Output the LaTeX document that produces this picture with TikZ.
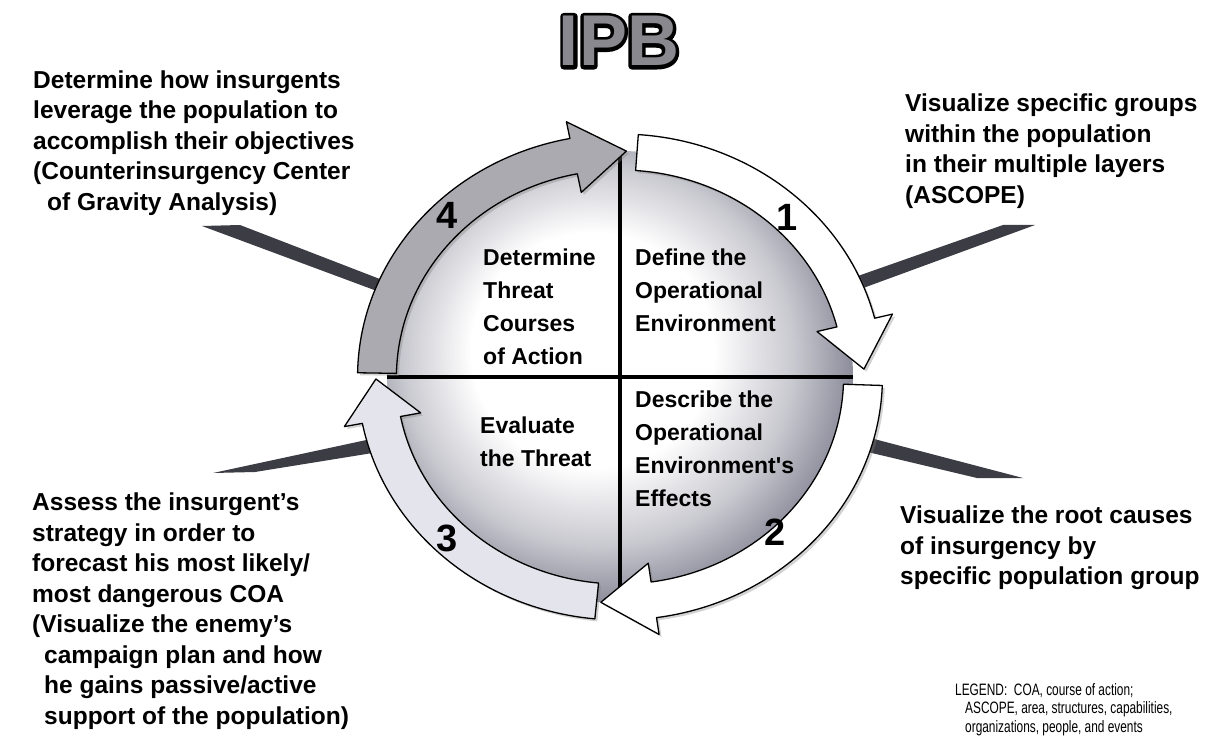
\documentclass[tikz,border=0pt]{standalone}
\usepackage{fontspec}
\setmainfont{Liberation Sans}
\newfontfamily\legendfont[FakeStretch=0.72]{Liberation Sans}
\usetikzlibrary{calc,shadows,shapes.geometric}

\definecolor{spokegray}{RGB}{60,60,68}
\definecolor{spheregray}{RGB}{118,118,136}
\definecolor{stepfour}{RGB}{170,170,176}
\definecolor{stepthree}{RGB}{228,228,236}
\definecolor{titlegray}{RGB}{136,136,142}

\pgfdeclareradialshading{ipbsphere}{\pgfpoint{-4bp}{4bp}}{color(0bp)=(white); color(13bp)=(white); color(21bp)=(spheregray!40); color(29bp)=(spheregray); color(50bp)=(spheregray)}

\begin{document}
\begin{tikzpicture}[x=1pt, y=-1pt,
		sidetext/.style={anchor=north west, align=left, inner sep=0pt,
				font=\fontsize{24.5}{30.5}\selectfont\bfseries},
		steptext/.style={anchor=north west, align=left, inner sep=0pt,
				font=\fontsize{23}{33}\selectfont\bfseries},
		stepnum/.style={inner sep=0pt, font=\fontsize{38}{38}\selectfont\bfseries},
		titletext/.style={anchor=base, inner sep=0pt, font=\fontsize{72}{72}\selectfont\bfseries},
		legendtext/.style={anchor=north west, align=left, inner sep=0pt,
				font=\legendfont\fontsize{16.5}{18.5}\selectfont},
		spoke/.style={fill=spokegray},
		ringarrow/.style={draw=black, line width=1.3pt, line join=round,
				drop shadow={shadow xshift=2.5pt, shadow yshift=-2.5pt, opacity=0.35}},
		crossline/.style={line width=4.5pt}
	]
	\useasboundingbox (0,0) rectangle (1221,738);

	% title: stroked copy under the grey letters
	\coordinate (titlebase) at (619,66);
	\node[titletext, text=black] (titleline) at (titlebase)
		{\special{pdf:literal direct 2 Tr 7 w 1 j 0 0 0 RG}IPB\special{pdf:literal direct 0 Tr}};
	\node[titletext, text=titlegray] (title) at (titlebase) {IPB};

	% spokes towards the text blocks
	\fill[spoke] (202,226) -- (240,225) -- (385,281) -- (385,294) -- cycle;
	\fill[spoke] (1035,225) -- (1003,225) -- (855,277) -- (855,291) -- cycle;
	\fill[spoke] (1023,478) -- (977,478) -- (855,449) -- (855,434) -- cycle;
	\fill[spoke] (213,473) -- (255,472) -- (385,451) -- (385,436) -- cycle;

	% sphere with the four quadrants
	\node[ellipse, minimum width=466pt, minimum height=452pt, inner sep=0pt,
		shade, shading=ipbsphere] (sphere) at (620,377) {};
	\draw[crossline] (sphere.north) -- (sphere.south);
	\draw[crossline] (sphere.west) -- (sphere.east);

	% cycle arrows: tail / head base / tip / fill
	\begin{scope}[shift={(620,377)}, x=1.08pt, y=1pt]
		\foreach \tl/\bs/\tp/\col in {179/101/88.5/stepfour, 264.5/191/180.5/stepthree,
				86/14/2/white, -2/-82/-94.5/white}
			\filldraw[ringarrow, fill=\col] (\tl:243) arc[start angle=\tl, end angle=\bs, radius=243]
			-- (\bs:260) -- (\tp:226) -- (\bs:188) -- (\bs:207)
			arc[start angle=\bs, end angle=\tl, radius=207] -- cycle;
	\end{scope}

	\node[stepnum] (numone) at (787,217) {1};
	\node[stepnum] (numtwo) at (775,532) {2};
	\node[stepnum] (numthree) at (447,538) {3};
	\node[stepnum] (numfour) at (447,215) {4};

	% quadrant labels
	\node[steptext] (threatcoa) at (483,242) {\strut Determine\\Threat\\Courses\\of Action};
	\node[steptext] (defineoe) at (635,242) {\strut Define the\\Operational\\Environment};
	\node[steptext] (evalthreat) at (480,410) {\strut Evaluate\\the Threat};
	\node[steptext] (describeoe) at (635,384) {\strut Describe the\\Operational\\Environment\textquotesingle s\\Effects};

	% side texts
	\node[sidetext] (leverage) at (33,66.6) {\strut Determine how insurgents\\leverage the population to\\accomplish their objectives\\(Counterinsurgency Center\\\hspace*{14pt}of Gravity Analysis)};
	\node[sidetext] (groups) at (905,90.3) {\strut Visualize specific groups\\within the population\\in their multiple layers\\(ASCOPE)};
	\node[sidetext] (rootcauses) at (900,502) {\strut Visualize the root causes\\of insurgency by\\specific population group};
	\node[sidetext] (strategy) at (32,489.3) {\strut Assess the insurgent’s\\strategy in order to\\forecast his most likely/\\most dangerous COA\\(Visualize the enemy’s\\\hspace*{12pt}campaign plan and how\\\hspace*{12pt}he gains passive/active\\\hspace*{12pt}support of the population)};

	\node[legendtext] (legend) at (955,682) {\strut LEGEND:\ \ COA, course of action;\\\hspace*{10pt}ASCOPE, area, structures, capabilities,\\\hspace*{10pt}organizations, people, and events};
\end{tikzpicture}
\end{document}
